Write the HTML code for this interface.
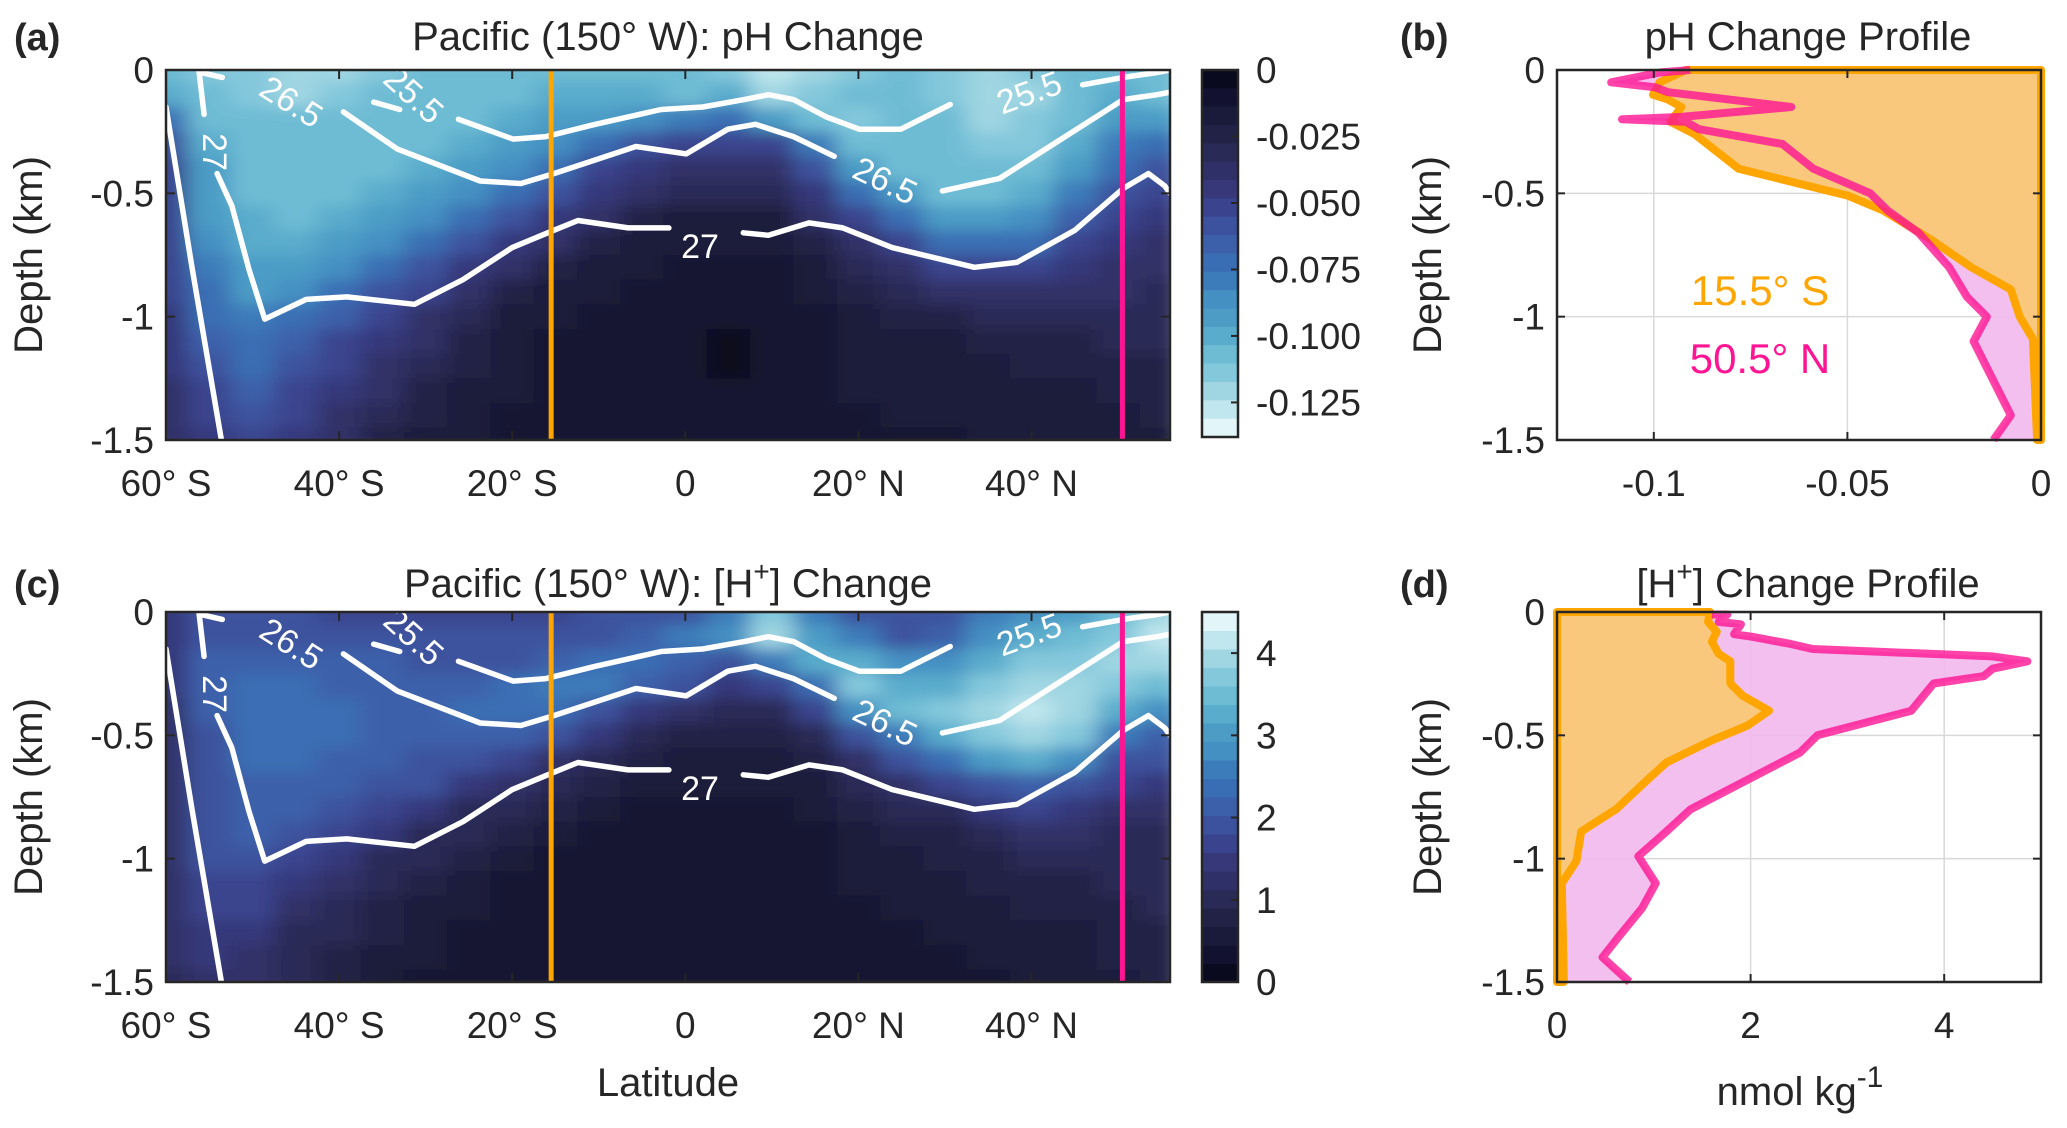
<!DOCTYPE html>
<html><head><meta charset="utf-8">
<style>
html,body{margin:0;padding:0;background:#fff;}
svg{display:block;font-family:"Liberation Sans",Arial,sans-serif;}
</style></head>
<body>
<svg id="fig" width="2067" height="1128" viewBox="0 0 2067 1128" xmlns="http://www.w3.org/2000/svg">
<defs>
<filter id="smooth" x="0" y="0" width="1" height="1" filterUnits="objectBoundingBox">
<feGaussianBlur stdDeviation="11 7" edgeMode="duplicate"/>
</filter>
<clipPath id="clipA"><rect x="166" y="70" width="1004" height="370"/></clipPath>
<clipPath id="clipC"><rect x="166" y="612" width="1004" height="370"/></clipPath>
<clipPath id="clipB"><rect x="1557" y="70" width="484" height="370"/></clipPath>
<clipPath id="clipD"><rect x="1557" y="612" width="484" height="370"/></clipPath>
</defs>
</svg>
<script>
// ---- data ----
const lats=[-60,-55,-50,-45,-40,-35,-30,-25,-20,-15,-10,-5,0,5,10,15,20,25,30,35,40,45,50,55];
const depths=[0,0.1,0.2,0.3,0.4,0.5,0.6,0.7,0.8,0.9,1.0,1.1,1.2,1.3,1.4,1.5];
// pH decrease magnitude, units of 0.001
const phMilli=[
[110,115,115,120,120,115,110,110,110,105,105,110,110,115,125,120,115,110,115,120,115,110,105,110],
[100,110,115,120,115,110,110,110,105,100,100,100,105,100,120,115,110,110,115,120,120,110,100,105],
[70,105,110,110,110,110,110,105,100,95,90,85,80,70,90,110,115,110,110,120,115,105,95,90],
[60,100,110,110,110,110,105,100,95,85,70,60,55,50,55,80,110,110,110,115,115,100,80,75],
[55,95,105,110,105,105,100,95,85,70,55,45,40,40,40,60,90,105,110,110,110,90,70,60],
[50,95,105,105,105,100,95,85,75,60,45,35,30,30,30,45,70,90,105,105,100,80,60,50],
[50,90,100,105,100,95,85,75,60,45,35,25,20,20,20,35,55,75,90,95,85,65,50,45],
[50,85,100,100,95,85,75,60,45,35,25,20,15,15,15,25,40,55,70,75,70,55,45,40],
[50,80,95,95,85,75,60,45,35,25,20,15,10,12,12,20,30,40,50,55,55,45,40,35],
[50,75,90,85,75,60,50,35,25,20,15,12,10,10,10,15,25,30,35,40,40,35,35,30],
[45,70,80,75,65,50,40,30,20,15,12,10,8,8,8,12,20,25,25,30,30,30,30,30],
[45,65,75,65,55,45,35,25,18,12,10,10,8,6,8,12,18,20,20,25,25,25,28,28],
[45,60,70,60,50,40,30,22,15,10,10,8,8,6,8,10,15,18,18,20,22,22,25,25],
[40,55,65,55,45,35,25,20,15,10,8,8,8,8,8,10,15,15,18,18,20,20,22,25],
[40,50,60,50,40,30,22,18,12,8,8,8,8,8,8,10,12,15,15,15,18,18,20,22],
[35,45,55,45,35,25,20,15,10,8,8,8,8,8,8,10,12,12,12,15,15,15,18,20]];
// [H+] increase, units of 0.1 nmol/kg
const hDeci=[
[15,18,18,18,17,17,16,16,16,17,18,18,20,25,38,25,20,18,20,25,28,30,35,40],
[15,20,20,20,19,18,18,18,18,18,20,22,25,28,40,30,25,20,22,28,32,35,38,42],
[14,21,22,22,21,21,20,20,20,22,24,24,22,20,25,32,33,28,28,32,36,38,40,40],
[14,21,23,23,22,22,22,22,23,26,26,22,18,15,16,24,36,32,32,36,40,40,38,35],
[13,21,23,23,23,22,22,23,24,24,20,15,12,10,10,16,28,34,36,40,42,40,32,28],
[13,20,23,23,23,22,22,22,21,18,14,10,8,8,8,10,18,26,32,38,40,36,26,22],
[13,20,23,23,22,21,20,19,17,13,10,7,6,6,6,8,12,18,24,30,32,28,20,18],
[13,20,22,22,21,20,18,15,12,9,7,5,5,5,5,6,9,12,16,20,22,20,16,15],
[13,19,22,21,19,17,14,11,9,7,5,4,4,4,4,5,7,9,11,14,16,15,13,12],
[13,19,21,19,17,14,11,9,7,5,4,4,3,3,3,4,6,7,8,10,12,12,11,11],
[13,18,19,17,14,11,9,7,5,4,4,3,3,3,3,4,5,6,7,8,9,9,10,10],
[13,17,17,15,12,9,7,5,4,4,3,3,3,3,3,4,5,5,6,7,8,8,9,9],
[12,16,16,13,10,8,6,5,4,3,3,3,3,3,3,3,4,5,5,6,7,7,8,9],
[12,15,14,11,9,7,5,4,4,3,3,3,3,3,3,3,4,4,5,5,6,6,8,8],
[12,14,13,10,8,6,5,4,3,3,3,3,3,3,3,3,4,4,4,5,5,6,7,8],
[11,13,12,9,7,5,4,3,3,3,3,3,3,3,3,3,3,4,4,4,5,5,6,7]];
// isopycnals: [lat, depth km], null = break (label gap)
const iso255=[[-36,0.13],[-33,0.16],null,[-26.2,0.20],[-19.9,0.28],[-16.1,0.27],[-10.4,0.22],[-2.8,0.16],[2,0.15],[6.8,0.12],[9.6,0.10],[12.5,0.12],[16.3,0.19],[20.1,0.24],[24.9,0.24],[30.6,0.14],null,[45.9,0.06],[50.6,0.03],[54.5,0.01],[56,0.0]];
const iso265=[[-56,0.01],[-53.5,0.03],null,[-39.5,0.17],[-33.3,0.32],[-23.7,0.45],[-19,0.46],[-15.2,0.42],[-5.7,0.31],[0.1,0.34],[4.9,0.24],[8.1,0.22],[12.5,0.27],[17.2,0.35],null,[29.7,0.49],[36.3,0.44],[43,0.29],[50.6,0.12],[54.5,0.10],[56,0.09]];
const iso27=[[-56.2,0],[-55.6,0.18],null,[-54.1,0.42],[-52.4,0.55],[-50.4,0.81],[-48.6,1.01],[-43.8,0.93],[-39.1,0.92],[-31.3,0.95],[-25.7,0.85],[-20,0.72],[-15.2,0.65],[-12.4,0.61],[-6.6,0.64],[-1.9,0.64],null,[6.7,0.66],[9.6,0.67],[14.3,0.62],[18.2,0.64],[23.9,0.72],[33.4,0.80],[38.3,0.78],[45,0.65],[50.6,0.48],[53.5,0.42],[55.4,0.47],[56,0.5]];
const isoDeep=[[-60,0.15],[-57,0.8],[-53.6,1.5]];
const sectionLats=[-15.5,50.5];
// profiles (b): pH change vs depth
const phS_val=[-0.0917,-0.0985,-0.1002,-0.0963,-0.0929,-0.0957,-0.0895,-0.0781,-0.0498,-0.0407,-0.0282,-0.018,-0.0078,-0.0055,-0.0021,-0.001];
const phS_dep=[0,0.05,0.10,0.12,0.15,0.21,0.26,0.40,0.51,0.57,0.69,0.80,0.89,1.00,1.09,1.5];
const phN_val=[-0.0906,-0.0985,-0.111,-0.0997,-0.0963,-0.0645,-0.0929,-0.1082,-0.0917,-0.0883,-0.0668,-0.0588,-0.0441,-0.0396,-0.0316,-0.0237,-0.0191,-0.014,-0.0174,-0.0078,-0.0123];
const phN_dep=[0,0.01,0.05,0.07,0.09,0.15,0.19,0.20,0.21,0.24,0.30,0.40,0.50,0.57,0.66,0.80,0.92,1.00,1.10,1.40,1.5];
// profiles (d): [H+] change
const hS_val=[1.58,1.56,1.65,1.60,1.67,1.79,1.79,1.92,2.19,1.97,1.60,1.13,0.88,0.61,0.25,0.20,0.05,0.07];
const hS_dep=[0,0.04,0.08,0.12,0.17,0.20,0.29,0.34,0.40,0.46,0.52,0.61,0.70,0.80,0.89,1.01,1.10,1.5];
const hN_val=[1.60,1.76,1.67,1.90,1.83,2.01,2.42,2.64,4.50,4.86,4.50,4.41,3.89,3.66,2.69,2.51,1.97,1.38,1.13,0.84,1.02,0.88,0.63,0.47,0.75];
const hN_dep=[0.01,0.01,0.04,0.05,0.09,0.10,0.13,0.15,0.18,0.20,0.23,0.26,0.29,0.40,0.50,0.57,0.68,0.80,0.89,0.99,1.10,1.20,1.32,1.40,1.5];
const latTicks=[-60,-40,-20,0,20,40];
const latTickLabels=["60° S","40° S","20° S","0","20° N","40° N"];
const depthTicks=[0,-0.5,-1,-1.5];
const depthTickLabels=["0","-0.5","-1","-1.5"];
const phCbTicks=[0,-0.025,-0.05,-0.075,-0.1,-0.125];
const phCbLabels=["0","-0.025","-0.050","-0.075","-0.100","-0.125"];
const hCbTicks=[0,1,2,3,4];
const phProfTicks=[-0.1,-0.05,0];
const phProfLabels=["-0.1","-0.05","0"];
const hProfTicks=[0,2,4];

// ---- helpers ----
const NS="http://www.w3.org/2000/svg";
const svg=document.getElementById('fig');
function mk(tag,attrs,parent){const e=document.createElementNS(NS,tag);for(const k in attrs)e.setAttribute(k,attrs[k]);(parent||svg).appendChild(e);return e;}
function txt(s,x,y,size,anchor,parent,extra){const t=mk('text',Object.assign({x:x,y:y,'font-size':size,'text-anchor':anchor||'middle',fill:'#262626'},extra||{}),parent);t.textContent=s;return t;}
const bandColors=['#0a0a1e','#121230','#1a1a3a','#222246','#2a2a56','#303068','#36387a','#3a448e','#3c529e','#3c60aa','#3a6eb4','#3c7cba','#4490c2','#4c9cc6','#5aaccc','#6ebcd4','#84c8dc','#a0d6e2','#c0e6ee','#e2f5f8'];
function cmap(t){t=Math.max(0,Math.min(0.9999,t));return bandColors[Math.floor(t*bandColors.length)];}

function panelMap(x0,y0,w,h){
  const sx=v=>x0+(v+60)/116*w;
  const sy=d=>y0+d/1.5*h;
  return {sx,sy};
}
function drawSection(x0,y0,w,h,grid,norm,clipId,name){
  const {sx,sy}=panelMap(x0,y0,w,h);
  const outer=mk('g',{'clip-path':'url(#'+clipId+')'});
  
  
  const g=mk('g',{filter:'url(#smooth)'},outer);
  for(let i=0;i<depths.length;i++){
    for(let j=0;j<lats.length;j++){
      const la=lats[j],d=depths[i];
      const r=mk('rect',{x:sx(la-2.5),y:sy(d-0.05),width:sx(la+2.5)-sx(la-2.5)+0.5,height:sy(d+0.05)-sy(d-0.05)+0.5,fill:cmap(norm(grid[i][j]))},g);
      
      
    }
  }
  [iso255,iso265,iso27,isoDeep].forEach((line,k)=>{
    let segs=[],cur=[];
    line.forEach(p=>{if(p===null){if(cur.length)segs.push(cur);cur=[];}else cur.push(sx(p[0]).toFixed(1)+','+sy(p[1]).toFixed(1));});
    if(cur.length)segs.push(cur);
    segs.forEach(s=>{const pl=mk('polyline',{points:s.join(' '),fill:'none',stroke:'#fff','stroke-width':5.5,'stroke-linejoin':'round','stroke-linecap':'round'},outer);
      
      });
  });
  const labs=[["26.5",290,104,32],["25.5",412,97,42],["25.5",1030,95,-20],["26.5",884,183,26],["27",700,249,0],["27",212,152,90]];
  labs.forEach(l=>{const t=txt(l[0],l[1],l[2]-70+y0,34,'middle',outer,{fill:'#fff',transform:'rotate('+l[3]+' '+l[1]+' '+(l[2]-70+y0)+')','dominant-baseline':'middle'});
    
    });
  const cols=['#ffa500','#ff1493'];
  sectionLats.forEach((la,k)=>{const l=mk('line',{x1:sx(la),x2:sx(la),y1:y0,y2:y0+h,stroke:cols[k],'stroke-width':5},outer);
    
    });
  const b=mk('rect',{x:x0,y:y0,width:w,height:h,fill:'none',stroke:'#262626','stroke-width':2.5});
  
  
  latTicks.forEach((v,i)=>{mk('line',{x1:sx(v),x2:sx(v),y1:y0+h,y2:y0+h-9,stroke:'#262626','stroke-width':2});
    mk('line',{x1:sx(v),x2:sx(v),y1:y0,y2:y0+9,stroke:'#262626','stroke-width':2});
    const t=txt(latTickLabels[i],sx(v),y0+h+56,37);
    
    });
  depthTicks.forEach((v,i)=>{const y=sy(-v);mk('line',{x1:x0,x2:x0+9,y1:y,y2:y,stroke:'#262626','stroke-width':2});
    mk('line',{x1:x0+w,x2:x0+w-9,y1:y,y2:y,stroke:'#262626','stroke-width':2});
    const t=txt(depthTickLabels[i],x0-12,y+13,37,'end');
    
    });
  const yt=txt('Depth (km)',0,0,40,'middle',null,{transform:'translate(42,'+(y0+h/2)+') rotate(-90)'});
  
  
}
// darkTop: darkest band at top (pH: 0 at top)
function drawColorbar(x0,y0,w,h,ticks,labels,tickPos,darkTop,name){
  const g=mk('g',{});
  
  
  const n=bandColors.length;
  for(let i=0;i<n;i++){
    const y=darkTop? y0+i*h/n : y0+h-(i+1)*h/n;
    mk('rect',{x:x0,y:y,width:w,height:h/n+0.5,fill:bandColors[i]},g);
  }
  mk('rect',{x:x0,y:y0,width:w,height:h,fill:'none',stroke:'#262626','stroke-width':2.5},g);
  ticks.forEach((v,i)=>{const y=y0+tickPos(v)*h;
    mk('line',{x1:x0+w,x2:x0+w-7,y1:y,y2:y,stroke:'#262626','stroke-width':2},g);
    const t=txt(labels[i],x0+w+18,y+13,37,'start',g);
    
    });
}
function drawProfile(x0,y0,w,h,xmin,xmax,sVal,sDep,nVal,nDep,xt,xtl,name,orangeEdgeX){
  const sx=v=>x0+(v-xmin)/(xmax-xmin)*w;
  const sy=d=>y0+d/1.5*h;
  const g=mk('g',{});
  
  
  xt.forEach(v=>mk('line',{x1:sx(v),x2:sx(v),y1:y0,y2:y0+h,stroke:'#d9d9d9','stroke-width':1.5},g));
  [0.5,1.0].forEach(d=>mk('line',{x1:x0,x2:x0+w,y1:sy(d),y2:sy(d),stroke:'#d9d9d9','stroke-width':1.5},g));
  const edgeX=sx(orangeEdgeX);
  const cl=mk('g',{'clip-path':'url(#'+(name.indexOf('ph')>=0?'clipB':'clipD')+')'},g);
  const nPts=nVal.map((v,i)=>sx(v).toFixed(1)+','+sy(nDep[i]).toFixed(1));
  const sPts=sVal.map((v,i)=>sx(v).toFixed(1)+','+sy(sDep[i]).toFixed(1));
  const pf=mk('polygon',{points:[edgeX+','+sy(nDep[0])].concat(nPts,[edgeX+','+sy(1.5)]).join(' '),fill:'#f2b8ec',opacity:0.9},cl);
  
  
  const of=mk('polygon',{points:[edgeX+','+sy(0)].concat(sPts,[edgeX+','+sy(1.5)]).join(' '),fill:'#f9c87c',stroke:'#ffa500','stroke-width':8,'stroke-linejoin':'round'},g);
  
  
  const pl=mk('polyline',{points:nPts.join(' '),fill:'none',stroke:'#ff1493','stroke-width':8,'stroke-opacity':0.8,'stroke-linejoin':'round'},g);
  
  
  mk('rect',{x:x0,y:y0,width:w,height:h,fill:'none',stroke:'#262626','stroke-width':2.5},g);
  xt.forEach((v,i)=>{mk('line',{x1:sx(v),x2:sx(v),y1:y0+h,y2:y0+h-8,stroke:'#262626','stroke-width':2},g);
    mk('line',{x1:sx(v),x2:sx(v),y1:y0,y2:y0+8,stroke:'#262626','stroke-width':2},g);
    const t=txt(xtl[i],sx(v),y0+h+56,37,'middle',g);
    
    });
  depthTicks.forEach((v,i)=>{const y=sy(-v);mk('line',{x1:x0,x2:x0+8,y1:y,y2:y,stroke:'#262626','stroke-width':2},g);
    mk('line',{x1:x0+w,x2:x0+w-8,y1:y,y2:y,stroke:'#262626','stroke-width':2},g);
    const t=txt(depthTickLabels[i],x0-12,y+13,37,'end',g);
    
    });
  const yt=txt('Depth (km)',0,0,40,'middle',g,{transform:'translate(1441,'+(y0+h/2)+') rotate(-90)'});
  
  
}

const phNorm=v=>v/138;
const hNorm=v=>v/45;
drawSection(166,70,1004,370,phMilli,phNorm,'clipA','panel-a');
drawSection(166,612,1004,370,hDeci,hNorm,'clipC','panel-c');
drawColorbar(1202,70,36,367,phCbTicks,phCbLabels,v=>-v/0.138,true,'colorbar-ph');
drawColorbar(1202,612,36,370,hCbTicks,hCbTicks.map(String),v=>1-v/4.5,false,'colorbar-h');
drawProfile(1557,70,484,370,-0.125,0,phS_val,phS_dep,phN_val,phN_dep,phProfTicks,phProfLabels,'panel-b-ph-profile',0);
drawProfile(1557,612,484,370,0,5,hS_val,hS_dep,hN_val,hN_dep,hProfTicks,hProfTicks.map(String),'panel-d-h-profile',0);

function named(t,n){}
named(txt('(a)',14,50,38,'start',null,{'font-weight':'bold'}),'panel-label-a');
named(txt('(b)',1400,50,38,'start',null,{'font-weight':'bold'}),'panel-label-b');
named(txt('(c)',14,597,38,'start',null,{'font-weight':'bold'}),'panel-label-c');
named(txt('(d)',1400,597,38,'start',null,{'font-weight':'bold'}),'panel-label-d');
named(txt('Pacific (150° W): pH Change',668,50,40),'title-a');
named(txt('pH Change Profile',1808,50,40),'title-b');
const tc=txt('',668,597,40);tc.innerHTML='Pacific (150° W): [H<tspan dy="-16" font-size="28">+</tspan><tspan dy="16">] Change</tspan>';named(tc,'title-c');
const td=txt('',1808,597,40);td.innerHTML='[H<tspan dy="-16" font-size="28">+</tspan><tspan dy="16">] Change Profile</tspan>';named(td,'title-d');
named(txt('Latitude',668,1096,40),'x-axis-title');
const xu=txt('',1800,1105,40);xu.innerHTML='nmol kg<tspan dy="-18" font-size="30">-1</tspan>';named(xu,'x-axis-title-units');
named(txt('15.5° S',1760,305,42,'middle',null,{fill:'#ffa500'}),'legend-15s');
named(txt('50.5° N',1760,373,42,'middle',null,{fill:'#ff1493'}),'legend-50n');
</script>
</body></html>
